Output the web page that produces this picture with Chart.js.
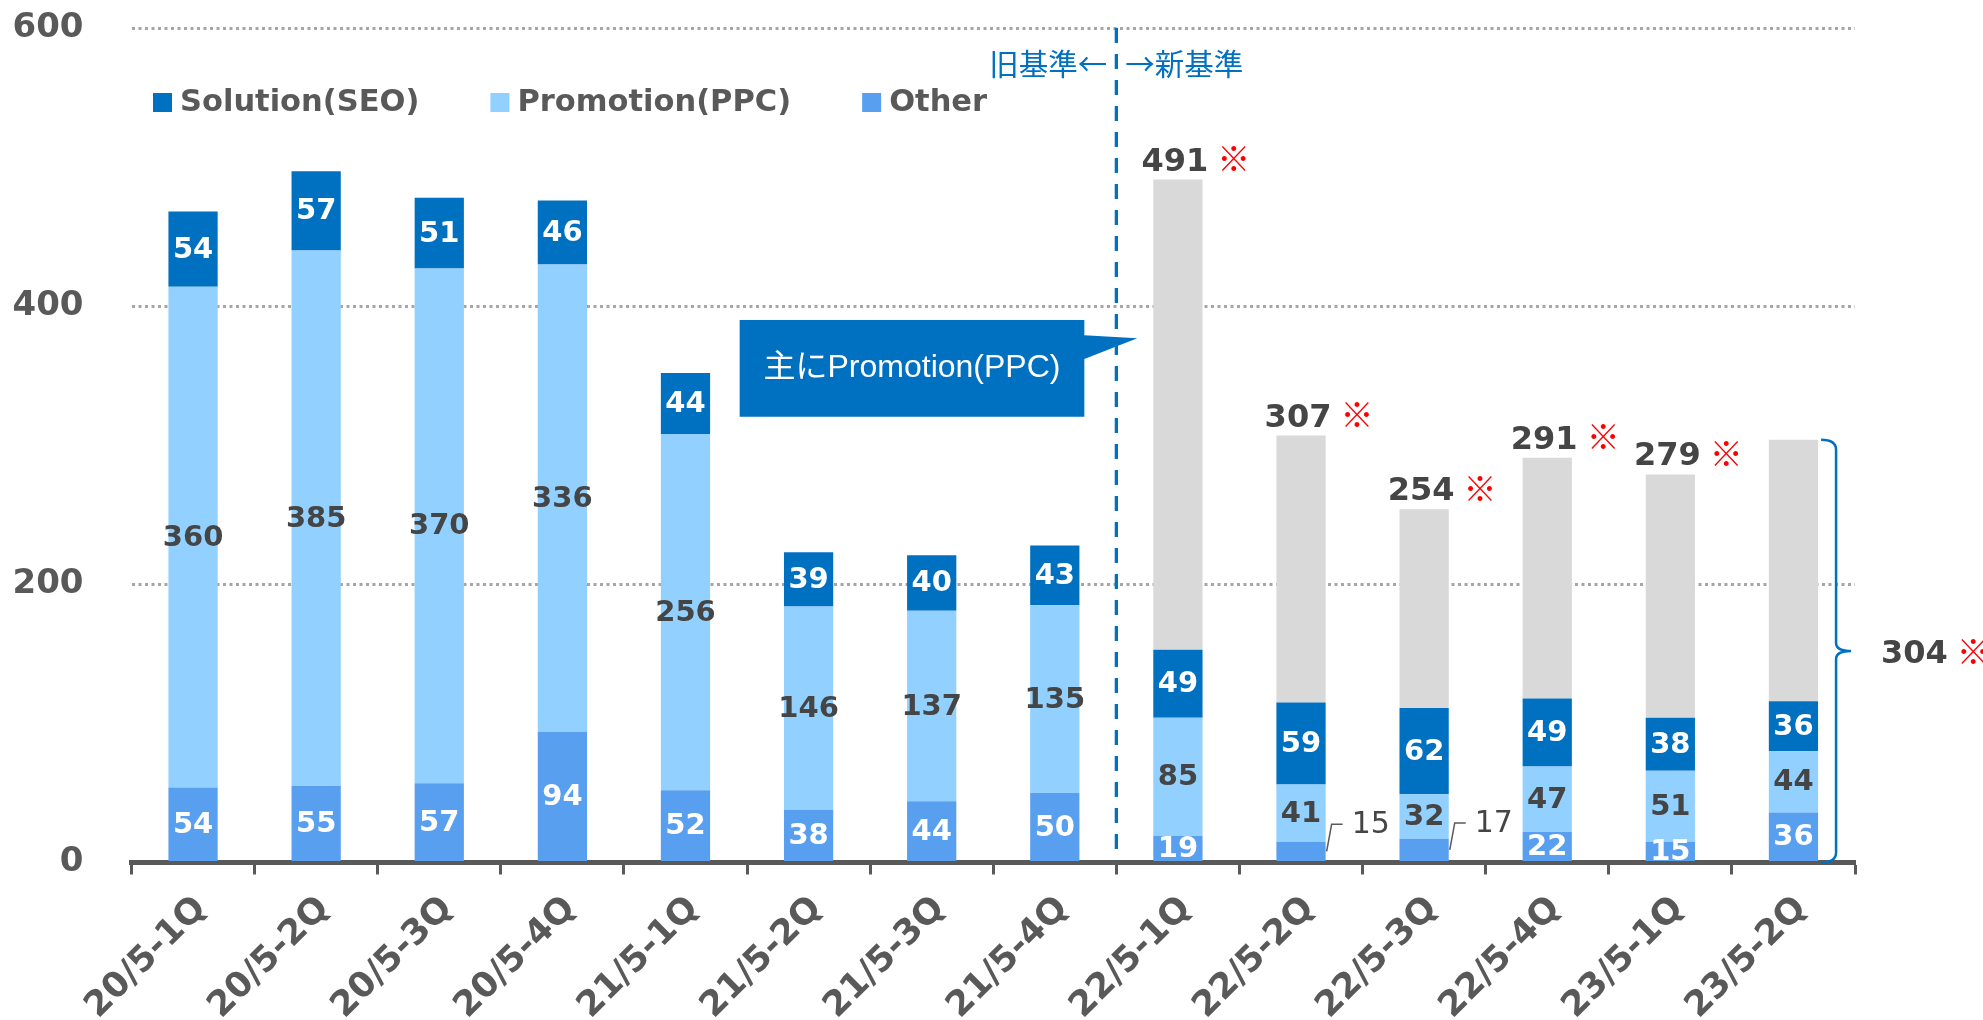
<!DOCTYPE html>
<html>
<head>
<meta charset="utf-8">
<script src="https://cdn.jsdelivr.net/npm/chart.js@4.4.1/dist/chart.umd.min.js"></script>
<style>
html, body { margin: 0; padding: 0; background: #fff; }
</style>
</head>
<body>
<canvas id="barChart" width="1983" height="1020"></canvas>
<script>
// data
const quarters = ['20/5-1Q','20/5-2Q','20/5-3Q','20/5-4Q','21/5-1Q','21/5-2Q','21/5-3Q','21/5-4Q',
                  '22/5-1Q','22/5-2Q','22/5-3Q','22/5-4Q','23/5-1Q','23/5-2Q'];
const other     = [54, 55, 57, 94, 52, 38, 44, 50, 19, 15, 17, 22, 15, 36];
const promotion = [360, 385, 370, 336, 256, 146, 137, 135, 85, 41, 32, 47, 51, 44];
const solution  = [54, 57, 51, 46, 44, 39, 40, 43, 49, 59, 62, 49, 38, 36];
// grey part of the new-standard bars (total minus the three segments)
const newBasis  = [null, null, null, null, null, null, null, null, 338, 192, 143, 173, 175, 188];
const totals    = [null, null, null, null, null, null, null, null, 491, 307, 254, 291, 279, 304];
const yTicks = [0, 200, 400, 600];
const outsideOther = [9, 10];   // "Other" labels drawn beside the bar
const bracketIndex = 13;        // total shown with a brace on the right

const BLUE = '#0070C0', LIGHT = '#92D0FF', MID = '#589FEF', GREY = '#D9D9D9';
const TXT = '#595959', DARK = '#454545';

Chart.defaults.font.family = '"DejaVu Sans"';
Chart.defaults.color = TXT;

function drawBarLabels(chart){
    const ctx = chart.ctx;
    const colors = ['#fff', DARK, '#fff'];
    ctx.save();
    for (let d = 0; d < 3; d++) {
        const meta = chart.getDatasetMeta(d);
        const vals = chart.data.datasets[d].data;
        meta.data.forEach((bar, i) => {
            const v = vals[i];
            if (v == null) return;
            const cy = (bar.y + bar.base) / 2;
            if (d === 0 && outsideOther.includes(i)) {
                const x0 = bar.x + bar.width / 2;
                ctx.strokeStyle = TXT;
                ctx.lineWidth = 1.5;
                ctx.beginPath();
                ctx.moveTo(x0 + 1, cy);
                ctx.lineTo(x0 + 6, cy - 27);
                ctx.lineTo(x0 + 17, cy - 27);
                ctx.stroke();
                ctx.font = '30px "DejaVu Sans"';
                ctx.fillStyle = DARK;
                ctx.textAlign = 'left';
                ctx.textBaseline = 'middle';
                ctx.fillText(String(v), x0 + 26, cy - 26);
                return;
            }
            ctx.font = 'bold 29px "DejaVu Sans"';
            ctx.fillStyle = colors[d];
            ctx.textAlign = 'center';
            ctx.textBaseline = 'middle';
            ctx.fillText(String(v), bar.x, cy + 1);
        });
    }
    ctx.restore();
}

function drawMark(ctx, x, y){
    ctx.font = '33px "Noto Sans CJK JP"';
    ctx.fillStyle = '#FF0000';
    ctx.textAlign = 'left';
    ctx.textBaseline = 'middle';
    ctx.fillText('※', x, y);
}

function drawTotals(chart){
    const ctx = chart.ctx;
    const meta = chart.getDatasetMeta(3);
    const yScale = chart.scales.y;
    ctx.save();
    totals.forEach((t, i) => {
        if (t == null) return;
        const bar = meta.data[i];
        ctx.font = 'bold 32px "DejaVu Sans"';
        ctx.fillStyle = DARK;
        if (i === bracketIndex) {
            const top = bar.y, bottom = yScale.getPixelForValue(0);
            const mid = (top + bottom) / 2;
            const bx = bar.x + bar.width / 2 + 18;
            ctx.strokeStyle = BLUE;
            ctx.lineWidth = 2.5;
            ctx.beginPath();
            ctx.moveTo(bx - 15, top);
            ctx.quadraticCurveTo(bx, top, bx, top + 10);
            ctx.lineTo(bx, mid - 8);
            ctx.quadraticCurveTo(bx, mid, bx + 15, mid);
            ctx.quadraticCurveTo(bx, mid, bx, mid + 8);
            ctx.lineTo(bx, bottom - 10);
            ctx.quadraticCurveTo(bx, bottom, bx - 15, bottom);
            ctx.stroke();
            ctx.textAlign = 'left';
            ctx.textBaseline = 'alphabetic';
            ctx.fillText(String(t), bx + 45, mid + 12);
            const w = ctx.measureText(String(t)).width;
            drawMark(ctx, bx + 45 + w + 9, mid);
            return;
        }
        ctx.textAlign = 'center';
        ctx.textBaseline = 'alphabetic';
        ctx.fillText(String(t), bar.x - 3, bar.y - 9);
        const w = ctx.measureText(String(t)).width;
        drawMark(ctx, bar.x - 3 + w / 2 + 9, bar.y - 21);
    });
    ctx.restore();
}

function drawNotes(chart){
    const ctx = chart.ctx;
    const {chartArea, scales: {x, y}} = chart;
    ctx.save();
    // old / new basis divider
    const lx = (x.getPixelForValue(7) + x.getPixelForValue(8)) / 2;
    ctx.strokeStyle = BLUE;
    ctx.lineWidth = 3.3;
    ctx.setLineDash([15, 11]);
    ctx.beginPath();
    ctx.moveTo(lx, chartArea.top);
    ctx.lineTo(lx, chartArea.bottom - 3);
    ctx.stroke();
    ctx.setLineDash([]);
    ctx.font = '29.5px "Noto Sans CJK JP"';
    ctx.fillStyle = BLUE;
    ctx.textBaseline = 'middle';
    ctx.textAlign = 'right';
    ctx.fillText('旧基準←', lx - 9, 64);
    ctx.textAlign = 'left';
    ctx.fillText('→新基準', lx + 9, 64);

    // callout
    const x0 = x.getPixelForValue(4.44), x1 = x.getPixelForValue(7.24);
    const y0 = y.getPixelForValue(390), y1 = y.getPixelForValue(320.5);
    ctx.fillStyle = BLUE;
    ctx.beginPath();
    ctx.moveTo(x0, y0);
    ctx.lineTo(x1, y0);
    ctx.lineTo(x1, y.getPixelForValue(379));
    ctx.lineTo(x.getPixelForValue(7.67), y.getPixelForValue(377));
    ctx.lineTo(x1, y.getPixelForValue(362));
    ctx.lineTo(x1, y1);
    ctx.lineTo(x0, y1);
    ctx.closePath();
    ctx.fill();
    ctx.fillStyle = '#fff';
    ctx.font = '32px "Liberation Sans", "Noto Sans CJK JP"';
    ctx.textAlign = 'center';
    ctx.textBaseline = 'middle';
    ctx.fillText('主にPromotion(PPC)', (x0 + x1) / 2, (y0 + y1) / 2);
    ctx.restore();
}

function drawLegend(chart){
    const ctx = chart.ctx;
    const items = [2, 1, 0];
    let lx = 153;
    ctx.save();
    ctx.font = 'bold 30.5px "DejaVu Sans"';
    ctx.textBaseline = 'middle';
    ctx.textAlign = 'left';
    items.forEach(d => {
        const ds = chart.data.datasets[d];
        ctx.fillStyle = ds.backgroundColor;
        ctx.fillRect(lx, 93, 19, 19);
        ctx.fillStyle = TXT;
        ctx.fillText(ds.label, lx + 27, 103);
        lx += 27 + ctx.measureText(ds.label).width + 71;
    });
    ctx.restore();
}

const overlay = {
    id: 'overlay',
    afterDatasetsDraw(chart){
        drawBarLabels(chart);
        drawTotals(chart);
        drawNotes(chart);
        drawLegend(chart);
    }
};

const ctx1 = document.getElementById('barChart').getContext('2d');
const salesChart = new Chart(ctx1, {
    type: 'bar',
    data: {
        labels: quarters,
        datasets: [
            { label: 'Other', data: other, backgroundColor: MID },
            { label: 'Promotion(PPC)', data: promotion, backgroundColor: LIGHT },
            { label: 'Solution(SEO)', data: solution, backgroundColor: BLUE },
            { label: 'new', data: newBasis, backgroundColor: GREY }
        ]
    },
    options: {
        responsive: false,
        devicePixelRatio: 1,
        animation: false,
        datasets: { bar: { categoryPercentage: 1, barPercentage: 0.4 } },
        layout: { padding: { top: 28, right: 128, left: 0, bottom: 0 } },
        scales: {
            x: {
                stacked: true,
                grid: {
                    display: true,
                    drawOnChartArea: false,
                    drawTicks: true,
                    tickLength: 12,
                    tickWidth: 3,
                    tickColor: TXT,
                    offset: true
                },
                border: { display: true, color: TXT, width: 5 },
                ticks: {
                    minRotation: 45,
                    maxRotation: 45,
                    padding: 14,
                    labelOffset: 8,
                    color: TXT,
                    font: { size: 35, weight: 'bold' }
                },
                afterFit(scale){ scale.height = 157.5; }
            },
            y: {
                stacked: true,
                min: 0,
                max: 600,
                afterBuildTicks(scale){ scale.ticks = yTicks.map(v => ({ value: v })); },
                grid: {
                    drawTicks: false,
                    lineWidth: 3,
                    color: c => c.tick && c.tick.value === 0 ? 'rgba(0,0,0,0)' : '#A6A6A6'
                },
                border: { display: false, dash: [3, 3.5] },
                ticks: {
                    padding: 48,
                    color: TXT,
                    font: { size: 34, weight: 'bold' }
                },
                afterFit(scale){
                    scale.width = 131.5;
                    scale.paddingTop = 0;
                    scale.paddingBottom = 0;
                }
            }
        },
        plugins: {
            legend: { display: false },
            tooltip: { enabled: false }
        }
    },
    plugins: [overlay]
});
</script>
</body>
</html>
